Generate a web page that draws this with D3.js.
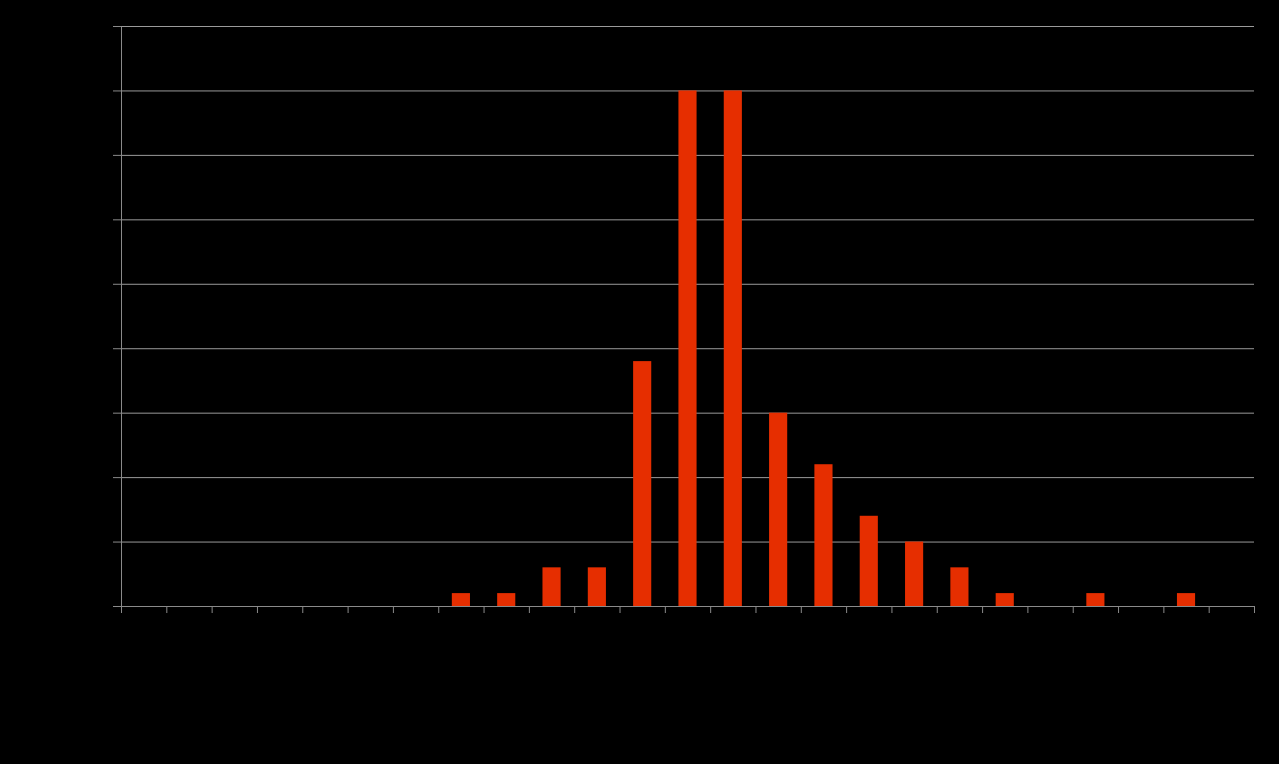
<!DOCTYPE html>
<html>
<head>
<meta charset="utf-8">
<script src="https://cdn.jsdelivr.net/npm/d3@7"></script>
<style>
html,body{margin:0;padding:0;background:#000;}
svg{display:block;}
</style>
</head>
<body>
<svg id="chart" width="1279" height="764"></svg>
<script>
const categories = ["1","2","3","4","5","6","7","8","9","10","11","12","13","14","15","16","17","18","19","20","21","22","23","24","25"];
const values = [0,0,0,0,0,0,0,1,1,3,3,19,40,40,15,11,7,5,3,1,0,1,0,1,0];
const yTicks = [0,5,10,15,20,25,30,35,40,45];

const svg = d3.select("#chart");
const W = 1279, H = 764;
const m = {left:121, right:25, top:26, bottom:158};
svg.append("rect").attr("width",W).attr("height",H).attr("fill","#000");

const x = d3.scaleBand().domain(categories).range([m.left, W-m.right]).paddingInner(0.6).paddingOuter(0.3);
const xb = d3.scaleLinear().domain([0, categories.length]).range([m.left, W-m.right]);
const y = d3.scaleLinear().domain([0,45]).range([H-m.bottom, m.top]);

// gridlines
svg.append("g").attr("class","grid")
  .attr("transform",`translate(${m.left},0)`)
  .call(d3.axisLeft(y).tickValues(yTicks.slice(1)).tickSize(-(W-m.left-m.right)).tickFormat(""))
  .call(g=>g.select(".domain").remove())
  .call(g=>g.selectAll("line").attr("stroke","#9a9a9a"));

// bars
svg.append("g").selectAll("rect").data(values).join("rect")
  .attr("x",(d,i)=>x(categories[i]))
  .attr("width",x.bandwidth())
  .attr("y",d=>y(d))
  .attr("height",d=>y(0)-y(d))
  .attr("fill","#e62e00");

// y axis
svg.append("g")
  .attr("transform",`translate(${m.left},0)`)
  .call(d3.axisLeft(y).tickValues(yTicks).tickSize(8).tickSizeOuter(0).tickFormat(""))
  .call(g=>g.selectAll("line,path").attr("stroke","#8a8a8a"));

// x axis
svg.append("g")
  .attr("transform",`translate(0,${H-m.bottom})`)
  .call(d3.axisBottom(xb).tickValues(d3.range(categories.length+1)).tickSize(7).tickSizeOuter(0).tickFormat(""))
  .call(g=>g.selectAll("line,path").attr("stroke","#8a8a8a"));
</script>
</body>
</html>
